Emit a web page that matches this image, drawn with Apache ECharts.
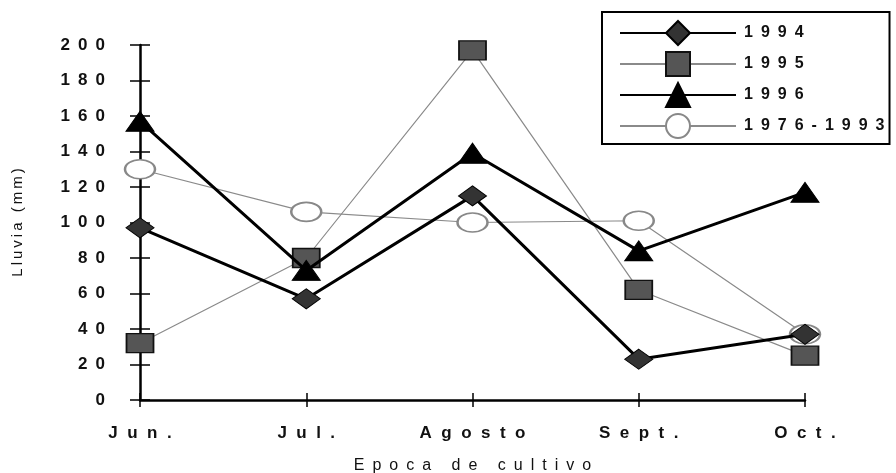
<!DOCTYPE html>
<html>
<head>
<meta charset="utf-8">
<script src="https://cdn.jsdelivr.net/npm/echarts@6/dist/echarts.min.js"></script>
<style>
  html, body { margin: 0; padding: 0; background: #fff; }
  #lluvia { width: 896px; height: 473px; }
</style>
</head>
<body>
<div id="lluvia"></div>
<script>
// datos
var categories = ['Jun.', 'Jul.', 'Agosto', 'Sept.', 'Oct.'];
var lluvia1994 = [97, 57, 115, 23, 37];
var lluvia1995 = [32, 80, 197, 62, 25];
var lluvia1996 = [157, 73, 139, 84, 117];
var lluvia7693 = [130, 106, 100, 101, 37];
var seriesNames = ['1994', '1995', '1996', '1976-1993'];
var yMin = 0, yMax = 200, yStep = 20;

// separa las letras como en el original
function spaced(s, sep) {
    return String(s).split('').join(sep);
}

var fuente = 'Liberation Sans, Arial, sans-serif';
var chart = echarts.init(document.getElementById('lluvia'));

var option = {
    backgroundColor: '#fff',
    animation: false,
    grid: { left: 140, right: 91, top: 45, bottom: 73, outerBoundsMode: 'none' },
    legend: {
        orient: 'vertical',
        left: 602,
        top: 12,
        padding: [8, 5, 5, 17],
        borderColor: '#000',
        borderWidth: 2,
        itemWidth: 116,
        itemHeight: 30,
        itemGap: 5,
        data: seriesNames,
        formatter: function (name) { return spaced(name, '\u2002'); },
        textStyle: { fontFamily: fuente, fontWeight: 'bold', fontSize: 16, color: '#111', padding: [0, 0, 0, 3] }
    },
    xAxis: [{
        type: 'category',
        data: categories,
        boundaryGap: false,
        name: spaced('Epoca de cultivo', '\u2002'),
        nameLocation: 'middle',
        nameGap: 58,
        nameTextStyle: { fontFamily: fuente, fontSize: 16, color: '#111' },
        axisLine: { lineStyle: { color: '#000', width: 2.5 } },
        axisTick: { length: 7, lineStyle: { color: '#000', width: 1.5 } },
        axisLabel: {
            margin: 25,
            fontFamily: fuente, fontWeight: 'bold', fontSize: 17, color: '#111',
            formatter: function (v) { return spaced(v, '  '); }
        },
        splitLine: { show: false }
    }, {
        type: 'category',
        data: categories,
        boundaryGap: false,
        position: 'bottom',
        axisLine: { show: false },
        axisTick: { inside: true, length: 7, lineStyle: { color: '#000', width: 1.5 } },
        axisLabel: { show: false },
        splitLine: { show: false }
    }],
    yAxis: [{
        type: 'value',
        min: yMin,
        max: yMax,
        interval: yStep,
        name: spaced('Lluvia (mm)', '\u2009'),
        nameLocation: 'middle',
        nameGap: 115,
        nameTextStyle: { fontFamily: fuente, fontSize: 15, color: '#111' },
        axisLine: { show: true, lineStyle: { color: '#000', width: 2.5 } },
        axisTick: { show: true, length: 10, lineStyle: { color: '#000', width: 1.5 } },
        axisLabel: {
            margin: 35,
            fontFamily: fuente, fontWeight: 'bold', fontSize: 17, color: '#111',
            formatter: function (v) { return spaced(v, ' \u2009'); }
        },
        splitLine: { show: false }
    }, {
        type: 'value',
        min: yMin,
        max: yMax,
        interval: yStep,
        position: 'left',
        axisLine: { show: false },
        axisTick: { show: true, inside: true, length: 10, lineStyle: { color: '#000', width: 1.5 } },
        axisLabel: { show: false },
        splitLine: { show: false }
    }],
    series: [{
        name: '1976-1993',
        type: 'line',
        data: lluvia7693,
        symbol: 'circle',
        symbolSize: [30, 19],
        z: 2,
        lineStyle: { color: '#8a8a8a', width: 1.2 },
        itemStyle: { color: '#fff', borderColor: '#888', borderWidth: 2 }
    }, {
        name: '1995',
        type: 'line',
        data: lluvia1995,
        symbol: 'rect',
        symbolSize: [27, 19],
        z: 3,
        lineStyle: { color: '#8a8a8a', width: 1.2 },
        itemStyle: { color: '#555', borderColor: '#111', borderWidth: 1.5 }
    }, {
        name: '1996',
        type: 'line',
        data: lluvia1996,
        symbol: 'triangle',
        symbolSize: [28, 20],
        z: 4,
        lineStyle: { color: '#000', width: 3 },
        itemStyle: { color: '#000', borderColor: '#000', borderWidth: 1 }
    }, {
        name: '1994',
        type: 'line',
        data: lluvia1994,
        symbol: 'diamond',
        symbolSize: [28, 20],
        z: 5,
        lineStyle: { color: '#000', width: 3 },
        itemStyle: { color: '#333', borderColor: '#000', borderWidth: 1 }
    }]
};

chart.setOption(option);
</script>
</body>
</html>
